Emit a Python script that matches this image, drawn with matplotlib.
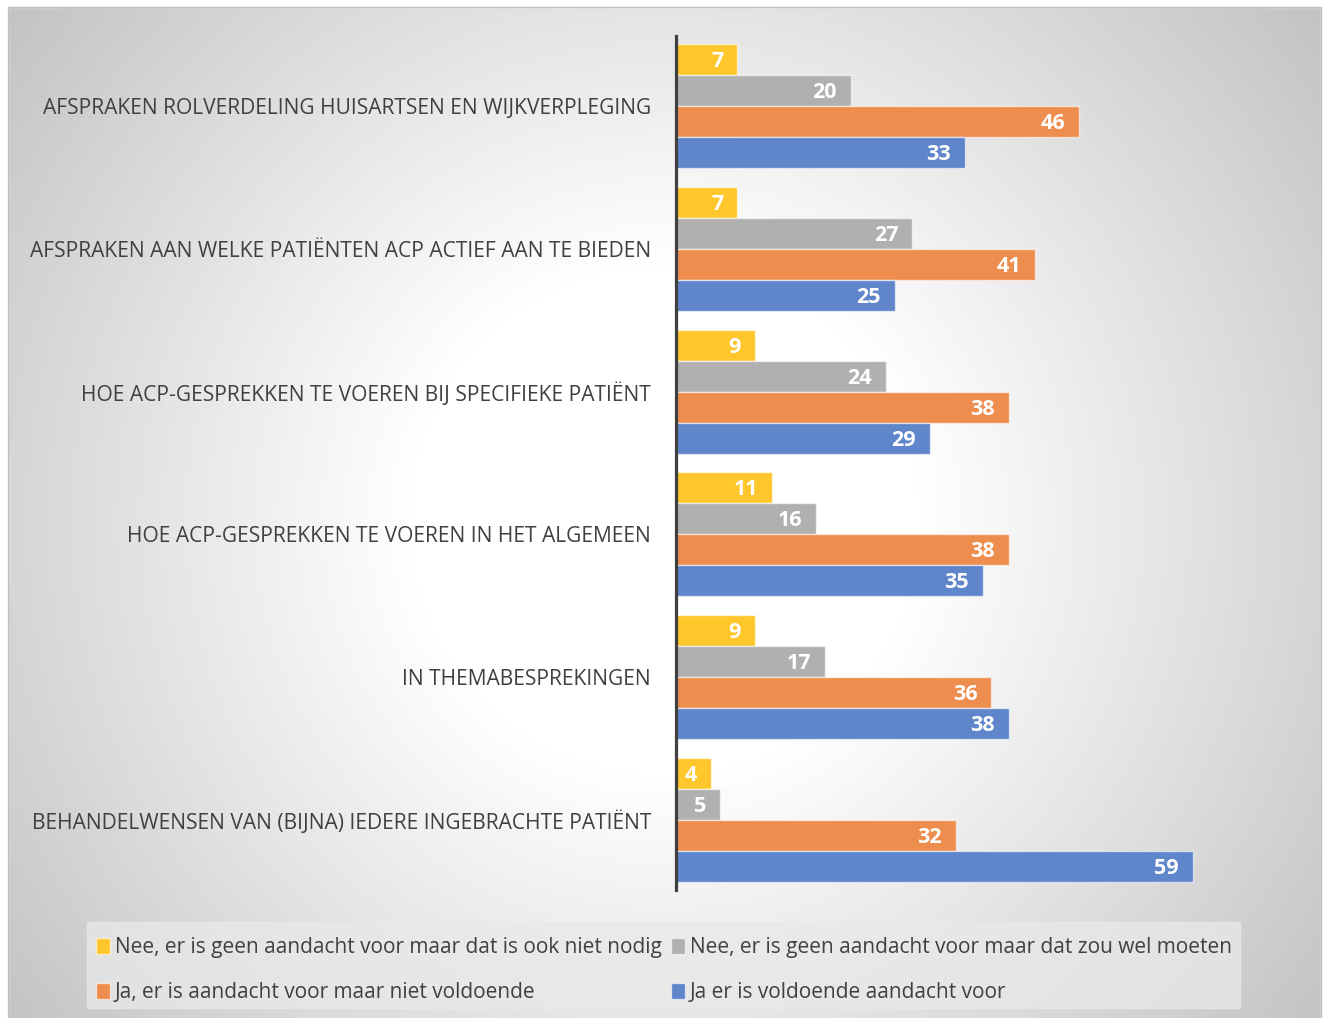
import numpy as np
import matplotlib
matplotlib.use("Agg")
import matplotlib.pyplot as plt
from matplotlib.patches import Rectangle, Patch

plt.rcParams['font.family'] = ['Open Sans', 'DejaVu Sans']

categories = [
    "AFSPRAKEN ROLVERDELING HUISARTSEN EN WIJKVERPLEGING",
    "AFSPRAKEN AAN WELKE PATIËNTEN ACP ACTIEF AAN TE BIEDEN",
    "HOE ACP-GESPREKKEN TE VOEREN BIJ SPECIFIEKE PATIËNT",
    "HOE ACP-GESPREKKEN TE VOEREN IN HET ALGEMEEN",
    "IN THEMABESPREKINGEN",
    "BEHANDELWENSEN VAN (BIJNA) IEDERE INGEBRACHTE PATIËNT",
]
series_names = [
    "Nee, er is geen aandacht voor maar dat is ook niet nodig",
    "Nee, er is geen aandacht voor maar dat zou wel moeten",
    "Ja, er is aandacht voor maar niet voldoende",
    "Ja er is voldoende aandacht voor",
]
nee_niet_nodig = [7, 7, 9, 11, 9, 4]
nee_wel_moeten = [20, 27, 24, 16, 17, 5]
ja_niet_voldoende = [46, 41, 38, 38, 36, 32]
ja_voldoende = [33, 25, 29, 35, 38, 59]
colors = ["#FFC72C", "#B0B0B0", "#EE8E4E", "#5F86CA"]

W, H = 1327, 1018
fig = plt.figure(figsize=(W / 100, H / 100), dpi=100)

# radial grey gradient behind the chart area
bg = fig.add_axes([0, 0, 1, 1], zorder=-5)
bg.set_xlim(0, W)
bg.set_ylim(H, 0)
bg.axis("off")
xx, yy = np.meshgrid(np.arange(W), np.arange(H))
d = np.hypot(xx - 664, yy - 520) / 850.0
t = np.clip((d - 0.3) / 0.7, 0, 1)
shade = 255 - 62 * t
img = np.dstack([shade, shade, shade]) / 255.0
bg.imshow(img, extent=(0, W, H, 0), interpolation="bilinear")
bg.add_patch(Rectangle((0, 0), W, 7, color="white", zorder=2))
bg.add_patch(Rectangle((0, 0), 8, H, color="white", zorder=2))
bg.add_patch(Rectangle((1321, 0), W - 1321, H, color="white", zorder=2))
bg.add_patch(Rectangle((8, 7), 1313, H, fill=False, edgecolor="#bdbdbd", lw=1, zorder=3))
# legend backdrop
bg.add_patch(Rectangle((87, 922), 1153, 86, color="#e9e9e9", alpha=0.75, zorder=3))

ax = fig.add_axes([676 / W, 128 / H, 613 / W, 854 / H])
ax.patch.set_alpha(0)

values = [nee_niet_nodig, nee_wel_moeten, ja_niet_voldoende, ja_voldoende]
y = np.arange(len(categories))
pitch = 0.217
for k, (vals, col, name) in enumerate(zip(values, colors, series_names)):
    ypos = y + (k - 1.5) * pitch
    ax.barh(ypos, vals, height=pitch, color=col, edgecolor=(1, 1, 1, 0.6),
            linewidth=1, label=name)
    for yp, v in zip(ypos, vals):
        ax.annotate(str(v), xy=(v, yp), xytext=(-14, -7.5), textcoords="offset pixels",
                    ha="right", va="baseline", color="white", fontsize=15.5,
                    fontweight="bold")

ax.set_xlim(0, 70)
ax.set_ylim(5.49, -0.49)
ax.set_yticks(y)
ax.set_yticklabels(categories, fontsize=15.1, color="#404040")
ax.tick_params(axis="y", length=0, pad=18)
ax.set_xticks([])
for s in ["top", "right", "bottom"]:
    ax.spines[s].set_visible(False)
ax.spines["left"].set_color("#404040")
ax.spines["left"].set_linewidth(2.3)

order = [0, 2, 1, 3]
handles = [Patch(facecolor=colors[i], edgecolor=(1, 1, 1, 0.6)) for i in order]
labels = [series_names[i] for i in order]
fig.legend(handles, labels, loc="upper left", bbox_to_anchor=(88 / W, 1 - 929 / H),
           ncol=2, frameon=False, fontsize=15, labelcolor="#404040",
           handlelength=0.65, handleheight=0.75, handletextpad=0.25,
           columnspacing=0.45, labelspacing=1.15, borderaxespad=0)

fig.savefig("out.png", dpi=100)
